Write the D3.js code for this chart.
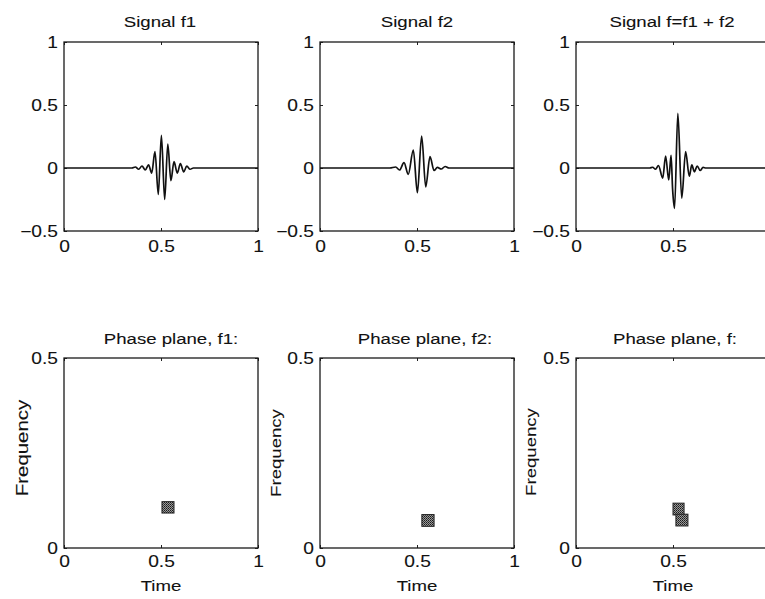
<!DOCTYPE html>
<html>
<head>
<meta charset="utf-8">
<script src="https://cdn.jsdelivr.net/npm/d3@7"></script>
<style>
  body { margin: 0; background: #fff; }
  svg { display: block; }
  text { font-family: "Liberation Sans", Arial, sans-serif; fill: #111; stroke: #111; stroke-width: 0.1px; }
</style>
</head>
<body>
<svg id="canvas" width="765" height="599"></svg>
<script>
// signals (time, amplitude at each visible extremum)
let f1Time = [0, 0.35, 0.368, 0.385, 0.402, 0.419, 0.436, 0.452, 0.469, 0.486, 0.502, 0.519, 0.535, 0.551, 0.567, 0.584, 0.600, 0.617, 0.633, 0.650, 0.667, 1]
let f1Value = [0, 0, 0.008, -0.01, 0.016, -0.016, 0.025, -0.04, 0.13, -0.21, 0.26, -0.25, 0.19, -0.10, 0.05, -0.04, 0.035, -0.03, 0.015, -0.01, 0, 0]

let f2Time = [0, 0.36, 0.39, 0.41, 0.433, 0.455, 0.481, 0.502, 0.524, 0.545, 0.567, 0.588, 0.605, 0.625, 0.645, 0.665, 1]
let f2Value = [0, 0, 0.008, -0.016, 0.042, -0.05, 0.143, -0.196, 0.254, -0.15, 0.09, -0.02, 0.005, -0.008, 0.012, 0, 0]

let fTime = [0, 0.38, 0.395, 0.41, 0.425, 0.447, 0.462, 0.478, 0.49, 0.498, 0.508, 0.525, 0.545, 0.565, 0.584, 0.597, 0.61, 0.625, 0.64, 0.655, 0.67, 1]
let fValue = [0, 0, 0.006, -0.01, 0.02, -0.08, 0.095, -0.095, 0.1, -0.17, -0.32, 0.434, -0.24, 0.13, -0.065, 0.025, -0.03, 0.016, -0.02, 0.005, 0, 0]

// phase plane boxes: [timeStart, timeEnd, freqStart, freqEnd]
let f1Boxes = [[0.505, 0.567, 0.092, 0.122]]
let f2Boxes = [[0.525, 0.588, 0.057, 0.088]]
let fBoxes = [[0.500, 0.557, 0.087, 0.118], [0.515, 0.577, 0.058, 0.089]]

let signalTitles = ['Signal f1', 'Signal f2', 'Signal f=f1 + f2']
let planeTitles = ['Phase plane, f1:', 'Phase plane, f2:', 'Phase plane, f:']

let signalYTicks = [-0.5, 0, 0.5, 1]
let timeTicks = [0, 0.5, 1]
let freqTicks = [0, 0.5]

let canvas = d3.select('#canvas')
const stretch = 1.2

// checkered grey fill like the printed boxes
let pat = canvas.append('defs').append('pattern')
    .attr('id', 'dither').attr('width', 2).attr('height', 2)
    .attr('patternUnits', 'userSpaceOnUse')
pat.append('rect').attr('width', 2).attr('height', 2).attr('fill', '#9a9a9a')
pat.append('rect').attr('width', 1).attr('height', 1).attr('fill', '#1a1a1a')
pat.append('rect').attr('x', 1).attr('y', 1).attr('width', 1).attr('height', 1).attr('fill', '#3a3a3a')

let widen = (sel) => {
    sel.each(function () {
        let x = +this.getAttribute('x') || 0
        let y = +this.getAttribute('y') || 0
        this.setAttribute('x', 0)
        this.setAttribute('y', 0)
        this.setAttribute('transform', `translate(${x},${y}) scale(${stretch},1)`)
    })
}

let drawFrame = (g, xScale, yScale, xTicks, yTicks, pad, clipped) => {
    let fmt = d3.format('')
    // the right-most panel runs past the page edge, its "1" is not shown
    let xFmt = d => (clipped && d === 1) ? '' : fmt(d)
    g.append('g').attr('transform', `translate(0,${yScale.range()[0]})`)
        .call(d3.axisBottom(xScale).tickValues(xTicks).tickSize(-3).tickPadding(pad).tickFormat(xFmt))
    g.append('g').attr('transform', `translate(${xScale.range()[0]},0)`)
        .call(d3.axisLeft(yScale).tickValues(yTicks).tickSize(-3).tickPadding(6).tickFormat(d => d < 0 ? '\u2212' + Math.abs(d) : fmt(d)))
    g.append('g').attr('transform', `translate(0,${yScale.range()[1]})`)
        .call(d3.axisTop(xScale).tickValues(xTicks).tickSize(-3).tickFormat(''))
    g.append('g').attr('transform', `translate(${xScale.range()[1]},0)`)
        .call(d3.axisRight(yScale).tickValues(yTicks).tickSize(-3).tickFormat(''))
    g.selectAll('.domain').remove()
    g.selectAll('.tick line').attr('stroke', '#222').attr('stroke-width', 1)
    g.selectAll('.tick text').attr('font-size', 16).attr('fill', '#111')
        .attr('font-family', '"Liberation Sans", Arial, sans-serif')
        .call(widen)
    g.append('rect')
        .attr('x', xScale.range()[0]).attr('y', yScale.range()[1])
        .attr('width', xScale.range()[1] - xScale.range()[0])
        .attr('height', yScale.range()[0] - yScale.range()[1])
        .attr('fill', 'none').attr('stroke', '#1a1a1a').attr('stroke-width', 1.3)
}

let lefts = [64, 320, 576]
let boxW = 194
let signals = [[f1Time, f1Value], [f2Time, f2Value], [fTime, fValue]]
let planes = [f1Boxes, f2Boxes, fBoxes]
let topTitleX = [160, 417, 672]
let planeTitleX = [171, 425, 675]
let freqLabel = [{x: 28, y: 448, size: 17}, {x: 281, y: 453, size: 15.5}, {x: 536, y: 452, size: 15.5}]

signals.forEach(([ts, vs], i) => {
    let g = canvas.append('g')
    let x = d3.scaleLinear().domain([0, 1]).range([lefts[i], lefts[i] + boxW])
    let y = d3.scaleLinear().domain([-0.5, 1]).range([231, 42])
    drawFrame(g, x, y, timeTicks, signalYTicks, 10, i === 2)

    let line = d3.line()
        .x((d, k) => x(ts[k]))
        .y(d => y(d))
        .curve(d3.curveMonotoneX)
    g.append('path')
        .attr('d', line(vs))
        .attr('fill', 'none').attr('stroke', '#111').attr('stroke-width', 1.7)

    g.append('text').attr('x', topTitleX[i]).attr('y', 27)
        .attr('text-anchor', 'middle').attr('font-size', 15.5)
        .text(signalTitles[i]).call(widen)
})

planes.forEach((boxes, i) => {
    let g = canvas.append('g')
    let x = d3.scaleLinear().domain([0, 1]).range([lefts[i], lefts[i] + boxW])
    let y = d3.scaleLinear().domain([0, 0.5]).range([548, 358])
    drawFrame(g, x, y, timeTicks, freqTicks, 8, i === 2)

    g.selectAll('rect.cell')
        .data(boxes)
        .enter()
        .append('rect')
        .attr('class', 'cell')
        .attr('x', d => x(d[0]))
        .attr('y', d => y(d[3]))
        .attr('width', d => x(d[1]) - x(d[0]))
        .attr('height', d => y(d[2]) - y(d[3]))
        .attr('fill', 'url(#dither)')
        .attr('stroke', '#222').attr('stroke-width', 1)

    g.append('text').attr('x', planeTitleX[i]).attr('y', 344)
        .attr('text-anchor', 'middle').attr('font-size', 15.5)
        .text(planeTitles[i]).call(widen)
    g.append('text').attr('x', x(0.5)).attr('y', 591)
        .attr('text-anchor', 'middle').attr('font-size', 15.5)
        .text('Time').call(widen)
    let fl = freqLabel[i]
    g.append('text')
        .attr('transform', `translate(${fl.x},${fl.y}) rotate(-90) scale(${stretch},1)`)
        .attr('text-anchor', 'middle').attr('font-size', fl.size)
        .text('Frequency')
})
</script>
</body>
</html>
